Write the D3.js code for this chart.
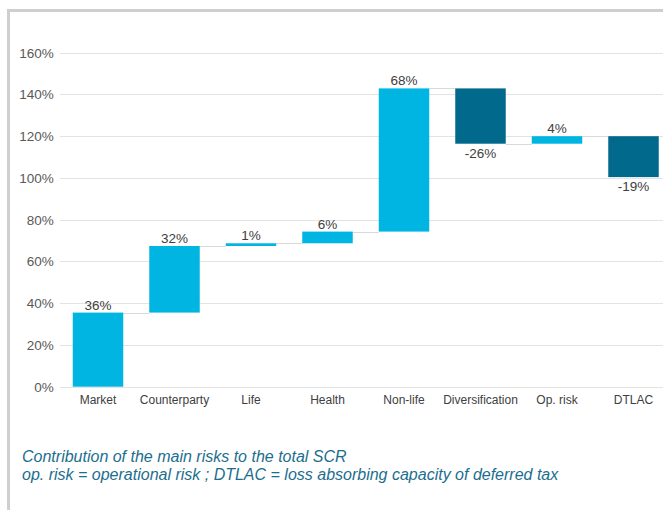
<!DOCTYPE html>
<html>
<head>
<meta charset="utf-8">
<script src="https://cdn.jsdelivr.net/npm/d3@7"></script>
<style>
  html, body { margin: 0; padding: 0; background: #fff; }
  svg { display: block; }
</style>
</head>
<body>
<svg id="chart" width="663" height="510"></svg>
<script>
const categories = ["Market", "Counterparty", "Life", "Health", "Non-life", "Diversification", "Op. risk", "DTLAC"];
const values = [35.5, 31.9, 1.3, 5.6, 68.6, -26.5, 3.6, -19.6];
const labels = ["36%", "32%", "1%", "6%", "68%", "-26%", "4%", "-19%"];
const yTicks = [0, 20, 40, 60, 80, 100, 120, 140, 160];
const captionLines = [
  "Contribution of the main risks to the total SCR",
  "op. risk = operational risk ; DTLAC = loss absorbing capacity of deferred tax"
];

const svg = d3.select("#chart");
const W = 663, H = 510;
const FONT = "Liberation Sans, Arial, sans-serif";

// frame
svg.append("rect").attr("x", 0).attr("y", 0).attr("width", W).attr("height", H).attr("fill", "#fff");
svg.append("rect").attr("x", 7).attr("y", 9).attr("width", W - 7).attr("height", 3).attr("fill", "#cfcfcf");
svg.append("rect").attr("x", 7).attr("y", 9).attr("width", 3).attr("height", H - 9).attr("fill", "#cfcfcf");

const x0 = 59.75, x1 = 671.75;
const y = d3.scaleLinear().domain([0, 160]).range([386.7, 52.7]);
const x = d3.scaleBand().domain(categories).range([x0, x1]).paddingInner(0.34).paddingOuter(0.17);

// waterfall data
let cum = 0;
const data = categories.map((c, i) => {
  const start = cum;
  cum += values[i];
  return { cat: c, start, end: cum, v: values[i], label: labels[i] };
});

// gridlines
svg.append("g").selectAll("line").data(yTicks).join("line")
  .attr("x1", x0).attr("x2", W)
  .attr("y1", d => Math.round(y(d)) + 0.5).attr("y2", d => Math.round(y(d)) + 0.5)
  .attr("stroke", "#e3e3e3").attr("stroke-width", 1);

// y axis labels
const yAxis = d3.axisLeft(y).tickValues(yTicks).tickSize(0).tickPadding(6).tickFormat(d => d + "%");
const ya = svg.append("g").attr("transform", `translate(${x0},0)`).call(yAxis);
ya.select(".domain").remove();
ya.selectAll("text").attr("font-family", FONT).attr("font-size", 13.5).attr("fill", "#595959");

// x axis labels
const xAxis = d3.axisBottom(x).tickSize(0).tickPadding(9);
const xa = svg.append("g").attr("transform", `translate(0,${y(0)})`).call(xAxis);
xa.select(".domain").remove();
xa.selectAll("text").attr("font-family", FONT).attr("font-size", 12).attr("fill", "#404040");

// connectors
svg.append("g").selectAll("line").data(data.slice(0, -1)).join("line")
  .attr("x1", d => x(d.cat) + x.bandwidth())
  .attr("x2", (d, i) => x(categories[i + 1]))
  .attr("y1", d => Math.round(y(d.end)) + 0.5)
  .attr("y2", d => Math.round(y(d.end)) + 0.5)
  .attr("stroke", "#d9d9d9").attr("stroke-width", 1);

// bars
svg.append("g").selectAll("rect").data(data).join("rect")
  .attr("x", d => x(d.cat))
  .attr("width", x.bandwidth())
  .attr("y", d => y(Math.max(d.start, d.end)))
  .attr("height", d => Math.abs(y(d.start) - y(d.end)))
  .attr("fill", d => d.v >= 0 ? "#00b5e2" : "#00698c");

// value labels
svg.append("g").selectAll("text").data(data).join("text")
  .attr("x", d => x(d.cat) + x.bandwidth() / 2)
  .attr("y", d => d.v >= 0 ? y(d.end) - 3 : y(d.end) + 14)
  .attr("text-anchor", "middle")
  .attr("font-family", FONT)
  .attr("font-size", 13.5)
  .attr("fill", "#404040")
  .text(d => d.label);

// caption
svg.append("g").selectAll("text").data(captionLines).join("text")
  .attr("x", 22)
  .attr("y", (d, i) => 462 + i * 17.5)
  .attr("font-family", FONT)
  .attr("font-size", 16)
  .attr("font-style", "italic")
  .attr("fill", "#1b6e8e")
  .text(d => d);
</script>
</body>
</html>
